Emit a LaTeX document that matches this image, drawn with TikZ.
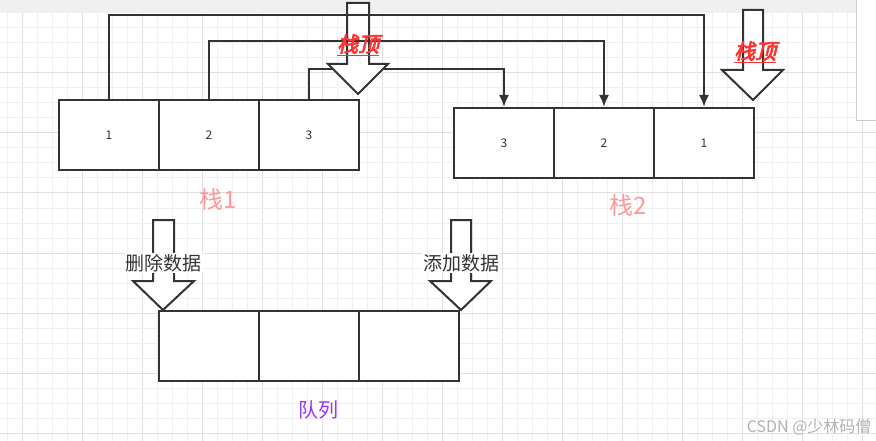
\documentclass[tikz,border=0pt]{standalone}
\usepackage{fontspec}
\setmainfont{Noto Sans CJK SC}
\newfontfamily\topfont[FakeSlant=0.25,FakeBold=3.5]{Noto Sans CJK SC}
\usetikzlibrary{arrows.meta}
\definecolor{linegray}{HTML}{333333}
\definecolor{minorgrid}{HTML}{EFEFEF}
\definecolor{majorgrid}{HTML}{E0E0E0}
\definecolor{stackpink}{HTML}{FF9999}
\definecolor{topred}{HTML}{FF3333}
\definecolor{queuepurple}{HTML}{9933FF}

\begin{document}
\begin{tikzpicture}[x=1pt,y=-1pt]
\tikzstyle{cell}=[draw=linegray, fill=white, line width=2pt, minimum width=100pt, minimum height=70pt, inner sep=0pt, text=linegray, font=\fontsize{12}{14}\selectfont]
\tikzstyle{conn}=[draw=linegray, line width=2pt, -{Latex[length=12pt,width=10pt]}]
\tikzstyle{bigarrow}=[draw=linegray, fill=white, line width=2pt, line join=miter]
\tikzstyle{toplabel}=[text=topred, font=\topfont\fontsize{21}{23}\selectfont]
\tikzstyle{oplabel}=[text=linegray, fill=white, inner sep=1pt, font=\fontsize{19}{21}\selectfont]
    % canvas and grid
    \fill[white] (0,0) rectangle (876,441);
    \useasboundingbox (0,0) rectangle (876,441);
    \foreach \k in {0,...,57} {
        \pgfmathtruncatemacro{\r}{mod(\k,4)}
        \ifnum\r=1 \draw[majorgrid, line width=1pt] (7+15*\k,13) -- (7+15*\k,441);
        \else \draw[minorgrid, line width=1pt] (7+15*\k,13) -- (7+15*\k,441); \fi
    }
    \foreach \k in {0,...,28} {
        \pgfmathtruncatemacro{\r}{mod(\k,4)}
        \ifnum\r=0 \draw[majorgrid, line width=1pt] (0,13+15*\k) -- (876,13+15*\k);
        \else \draw[minorgrid, line width=1pt] (0,13+15*\k) -- (876,13+15*\k); \fi
    }
    \fill[black!6] (0,0) rectangle (876,13);
    \draw[black!20, fill=white] (856,-2) rectangle (878,120);

    % stack 1
    \node[cell] (s1a) at (109,135.5) {1};
    \node[cell] (s1b) at (209,135.5) {2};
    \node[cell] (s1c) at (309,135.5) {3};
    % stack 2
    \node[cell] (s2c) at (504,143) {3};
    \node[cell] (s2b) at (604,143) {2};
    \node[cell] (s2a) at (704,143) {1};
    % queue
    \node[cell] (q1) at (209,346) {};
    \node[cell] (q2) at (309,346) {};
    \node[cell] (q3) at (409,346) {};

    \draw[conn] (s1c.north) -- ++(0,-30) -| (s2c.north);
    \draw[bigarrow] (347,3) -- (369,3) -- (369,64) -- (388,64) -- (358,94) -- (328,64) -- (347,64) -- cycle;
    \draw[conn] (s1a.north) -- ++(0,-84) -| (s2a.north);
    \draw[conn] (s1b.north) -- ++(0,-58) -| (s2b.north);
    \draw[bigarrow] (743,10) -- (763,10) -- (763,70) -- (783,70) -- (753,100) -- (722,70) -- (743,70) -- cycle;
    \draw[bigarrow] (153,220) -- (174,220) -- (174,281) -- (194,281) -- (163,310) -- (133,281) -- (153,281) -- cycle;
    \draw[bigarrow] (451,220) -- (471,220) -- (471,281) -- (491,281) -- (461,310) -- (430,281) -- (451,281) -- cycle;

    \node[toplabel] (top1) at (358,45) {\underline{栈顶}};
    \node[toplabel] (top2) at (755,52) {\underline{栈顶}};
    \node[oplabel] (del) at (163.5,263) {删除数据};
    \node[oplabel] (add) at (461,263) {添加数据};

    \node[text=stackpink, font=\fontsize{24}{26}\selectfont] (name1) at (218,199) {栈1};
    \node[text=stackpink, font=\fontsize{24}{26}\selectfont] (name2) at (628,205) {栈2};
    \node[text=queuepurple, font=\fontsize{20}{22}\selectfont] (nameq) at (318,410) {队列};
    \node[text=black!30, font=\fontsize{16}{18}\selectfont, anchor=east] (mark) at (875,427) {CSDN @少林码僧};
\end{tikzpicture}
\end{document}
